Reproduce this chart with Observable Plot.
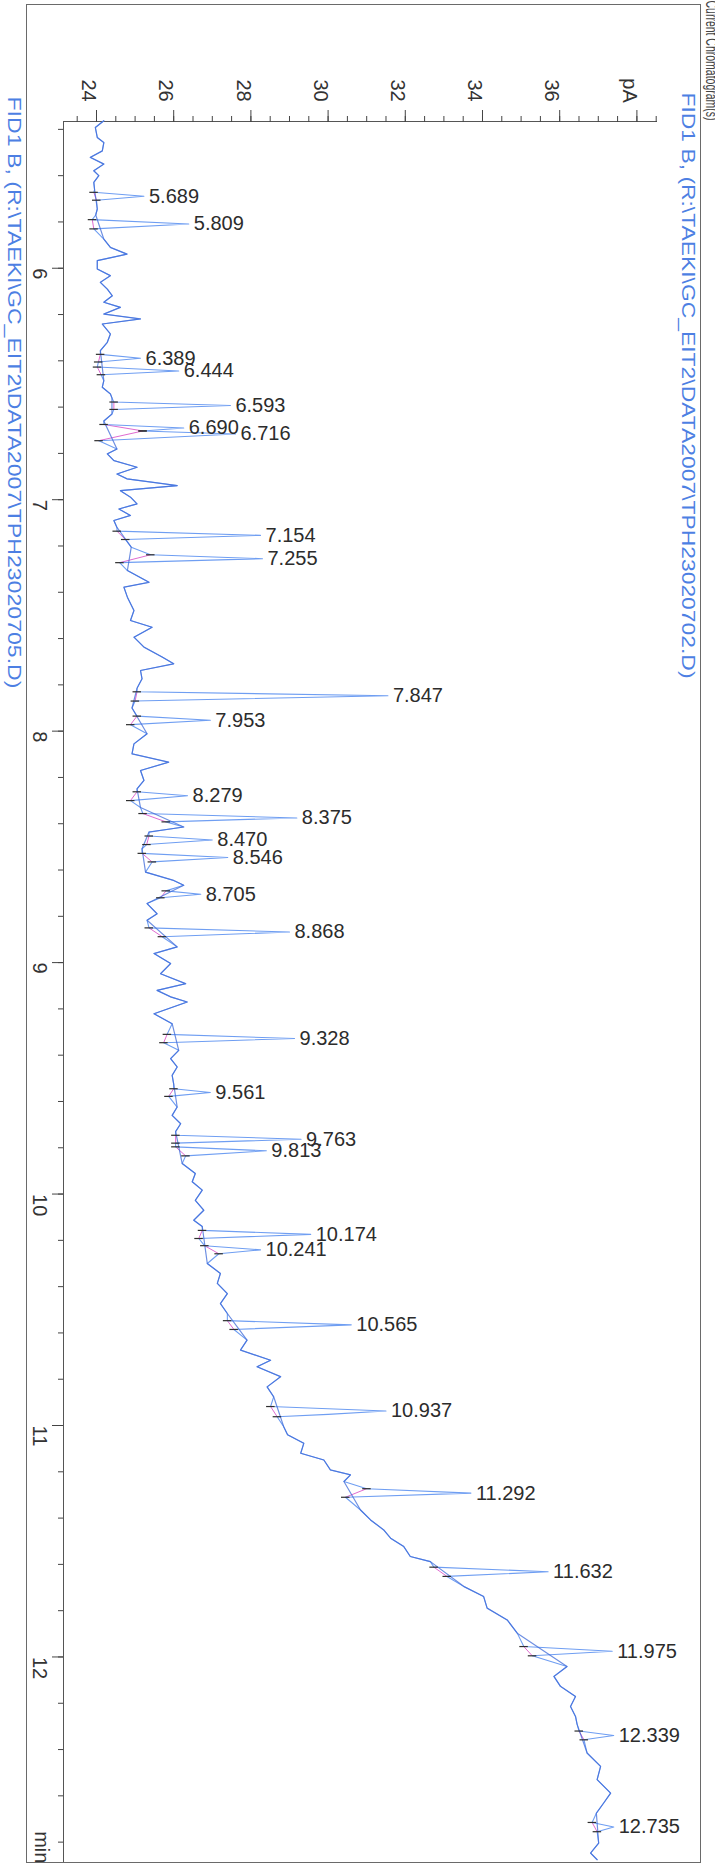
<!DOCTYPE html>
<html><head><meta charset="utf-8">
<script src="https://cdn.jsdelivr.net/npm/d3@7"></script>
<script src="https://cdn.jsdelivr.net/npm/@observablehq/plot@0.6"></script>
<style>
html,body{margin:0;padding:0;background:#fff;}
#wrap{position:relative;width:715px;height:1865px;overflow:hidden;background:#fff;}
#border{position:absolute;left:26px;top:4px;width:673px;height:1857px;border:1px solid #6a6a6a;pointer-events:none;}
</style></head><body>
<div id="wrap"><div id="chart"></div><div id="border"></div></div>
<script>
// ---------------- data ----------------
const timeMajorTicks = [6, 7, 8, 9, 10, 11, 12];
const timeMinorTicks = [5.4,5.6,5.8,6.0,6.2,6.4,6.6,6.8,7.0,7.2,7.4,7.6,7.8,8.0,8.2,8.4,8.6,8.8,9.0,9.2,9.4,9.6,9.8,10.0,10.2,10.4,10.6,10.8,11.0,11.2,11.4,11.6,11.8,12.0,12.2,12.4,12.6,12.8];
const pAMajorTicks = [24, 26, 28, 30, 32, 34, 36, 38];
const pAMajorLabels = ["24", "26", "28", "30", "32", "34", "36", "pA"];
const pAMinorTicks = [23.5,24,24.5,25,25.5,26,26.5,27,27.5,28,28.5,29,29.5,30,30.5,31,31.5,32,32.5,33,33.5,34,34.5,35,35.5,36,36.5,37,37.5,38,38.5];
const timeUnitLabel = "min";
const signalLabels = [
  "FID1 B, (R:\\TAEKI\\GC_EIT2\\DATA2007\\TPH23020705.D)",
  "FID1 B, (R:\\TAEKI\\GC_EIT2\\DATA2007\\TPH23020702.D)"
];
const pageTitle = "Current Chromatogram(s)";

// baseline (noise) points: [time min, signal pA]
const baseline = [
[5.363,24.19],[5.392,23.97],[5.435,24.02],[5.457,24.19],[5.493,24.15],[5.521,23.84],[5.550,24.19],[5.579,23.93],[5.600,24.06],[5.629,23.93],[5.660,23.95],
[5.744,24.02],[5.770,23.98],
[5.874,24.19],[5.910,24.36],[5.939,24.79],[5.967,24.02],[6.003,24.02],[6.032,24.36],[6.061,24.10],[6.090,24.28],[6.119,24.41],[6.147,24.19],[6.169,24.62],[6.198,24.19],[6.219,25.14],[6.241,24.15],[6.284,24.36],[6.320,24.28],[6.356,24.10],
[6.486,24.19],[6.514,24.15],[6.543,24.36],[6.560,24.40],
[6.630,24.40],[6.660,24.19],
[6.781,24.53],[6.802,24.28],[6.831,24.45],[6.860,25.05],[6.889,24.53],[6.910,24.79],[6.939,26.09],[6.961,24.62],[6.989,24.88],[7.018,25.05],[7.040,24.58],[7.068,24.88],[7.090,24.45],[7.120,24.53],
[7.205,24.90],
[7.306,24.80],[7.357,25.36],[7.378,24.71],[7.421,24.80],[7.479,24.97],[7.522,24.88],[7.551,25.44],[7.594,24.97],[7.637,25.23],[7.680,25.70],[7.709,26.00],[7.738,25.14],[7.774,25.18],[7.815,25.05],
[7.900,24.92],
[8.011,25.31],[8.055,24.97],[8.098,24.92],[8.134,25.87],[8.170,25.14],[8.213,25.23],[8.249,25.05],
[8.330,25.14],
[8.414,26.26],[8.436,25.36],
[8.508,25.18],
[8.609,25.27],[8.645,26.00],[8.666,26.26],
[8.745,25.31],[8.789,25.57],[8.817,25.31],
[8.932,26.09],[8.961,25.49],[9.004,25.92],[9.048,25.66],[9.091,26.31],[9.120,25.57],[9.148,25.92],[9.170,26.35],[9.221,25.49],[9.264,25.96],
[9.379,26.13],[9.415,25.92],[9.451,26.09],[9.487,25.96],[9.525,26.00],
[9.624,26.09],[9.660,25.96],[9.696,26.18],[9.730,26.05],
[9.868,26.22],[9.911,26.56],[9.947,26.48],[9.983,26.74],[10.027,26.56],[10.070,26.78],[10.113,26.52],[10.140,26.74],
[10.300,26.87],[10.343,27.21],[10.386,27.13],[10.430,27.39],[10.473,27.21],[10.516,27.39],
[10.631,27.90],[10.674,27.73],[10.718,28.51],[10.746,28.16],[10.789,28.77],[10.833,28.42],[10.876,28.59],
[11.005,28.85],[11.040,28.95],[11.077,29.37],[11.120,29.29],[11.149,29.89],[11.192,30.06],[11.213,30.58],[11.242,30.41],
[11.365,30.84],[11.408,31.10],[11.451,31.44],[11.487,31.62],[11.523,31.96],[11.566,32.13],[11.588,32.65],
[11.696,33.52],[11.739,34.03],[11.789,34.12],[11.840,34.64],[11.897,34.90],
[12.041,36.19],[12.084,35.85],[12.127,36.02],[12.171,36.41],[12.214,36.28],[12.257,36.41],[12.290,36.45],
[12.415,36.71],[12.473,37.06],[12.530,36.97],[12.588,37.32],[12.631,37.14],[12.675,36.95],
[12.804,37.01],[12.847,36.80],[12.876,36.97]
];

// extra trace points on peak flanks: [time, pA]
const shoulders = [[10.952, 30.00]];

// integrated peaks: [retention time, apex pA, start time, start pA, end time, end pA]
const peaks = [
[5.689,25.23,5.672,23.93,5.706,24.00],
[5.809,26.39,5.790,23.89,5.830,23.93],
[6.389,25.14,6.372,24.10,6.405,24.05],
[6.444,26.13,6.427,24.02,6.460,24.12],
[6.593,27.47,6.578,24.45,6.610,24.45],
[6.690,26.26,6.675,24.19,6.703,25.20],
[6.716,27.60,6.703,25.20,6.745,24.06],
[7.154,28.25,7.136,24.53,7.172,24.75],
[7.255,28.30,7.238,25.40,7.272,24.60],
[7.847,31.55,7.830,25.05,7.870,25.00],
[7.953,26.95,7.935,25.05,7.972,24.88],
[8.279,26.36,8.262,25.05,8.300,24.88],
[8.375,29.19,8.356,25.20,8.392,25.80],
[8.470,27.00,8.453,25.36,8.490,25.30],
[8.546,27.40,8.528,25.18,8.565,25.44],
[8.705,26.70,8.690,25.80,8.720,25.66],
[8.868,29.00,8.850,25.36,8.888,25.70],
[9.328,29.13,9.310,25.83,9.346,25.74],
[9.561,26.95,9.545,26.00,9.578,25.87],
[9.763,29.30,9.746,26.05,9.780,26.05],
[9.813,28.40,9.796,26.05,9.835,26.31],
[10.174,29.55,10.157,26.74,10.192,26.65],
[10.241,28.25,10.223,26.80,10.258,27.17],
[10.565,30.60,10.547,27.39,10.585,27.56],
[10.937,31.50,10.918,28.51,10.962,28.68],
[11.292,33.70,11.273,31.00,11.310,30.45],
[11.632,35.70,11.612,32.74,11.652,33.08],
[11.975,37.36,11.955,35.07,11.995,35.29],
[12.339,37.40,12.320,36.50,12.358,36.63],
[12.735,37.40,12.715,36.84,12.755,36.97]
];

// ---------------- derived tables ----------------
const peakRows = peaks.map(([rt, apex, t0, p0, t1, p1]) => ({rt, apex, t0, p0, t1, p1}));
const trace = [
  ...baseline.map(([t, v]) => ({t, v})),
  ...shoulders.map(([t, v]) => ({t, v})),
  ...peakRows.flatMap(p => [{t: p.t0, v: p.p0}, {t: p.rt, v: p.apex}, {t: p.t1, v: p.p1}])
].sort((a, b) => a.t - b.t)
 .filter((d, i, arr) => i === 0 || d.t !== arr[i - 1].t || d.v !== arr[i - 1].v);
const baseRows = baseline.map(([t, v]) => ({t, v}));
const bounds = peakRows.flatMap(p => [{t: p.t0, v: p.p0}, {t: p.t1, v: p.p1}]);

const dash = {draw(ctx) { ctx.moveTo(-4.5, 0); ctx.lineTo(4, 0); }};
const FONT = "'Liberation Sans', Arial, Helvetica, sans-serif";
const ink = "#333";

const svg = Plot.plot({
  width: 715, height: 1865,
  marginTop: 121, marginLeft: 63, marginRight: 59, marginBottom: 3,
  x: {domain: [23.145, 38.508], axis: null},
  y: {domain: [5.366, 12.888], reverse: true, axis: null},
  style: {fontFamily: FONT, background: "transparent", overflow: "visible"},
  marks: [
    Plot.frame({anchor: "top", stroke: "#555"}),
    Plot.frame({anchor: "left", stroke: "#555"}),
    Plot.frame({anchor: "bottom", stroke: "#777"}),
    Plot.axisX({anchor: "top", ticks: pAMinorTicks, tickSize: 6, fill: "none", stroke: "#444", label: null}),
    Plot.axisX({anchor: "top", ticks: pAMajorTicks, tickSize: 12, fill: "none", stroke: "#444", label: null}),
    Plot.text(pAMajorTicks, {x: d => d, text: (d, i) => pAMajorLabels[i], frameAnchor: "top", dy: -31,
      rotate: 90, fontSize: 20, fill: ink}),
    Plot.axisY({anchor: "left", ticks: timeMinorTicks, tickSize: 5, fill: "none", stroke: "#444", label: null}),
    Plot.axisY({anchor: "left", ticks: timeMajorTicks, tickSize: 11, fill: "none", stroke: "#444", label: null}),
    Plot.text(timeMajorTicks, {y: d => d, text: d => String(d), frameAnchor: "left", dx: -24,
      rotate: 90, fontSize: 20, fill: ink}),
    Plot.text([{t: 12.8, s: timeUnitLabel}], {y: "t", text: "s", frameAnchor: "left", dx: -22, dy: -11,
      rotate: 90, textAnchor: "start", fontSize: 20, fill: ink}),
    Plot.text([signalLabels[0]], {frameAnchor: "top-left", dx: -42, dy: -25, rotate: 90, textAnchor: "start",
      fontSize: 19, fill: "#4d7fe3"}),
    Plot.text([signalLabels[1]], {frameAnchor: "top-right", dx: 39, dy: -29, rotate: 90, textAnchor: "start",
      fontSize: 19, fill: "#4d7fe3"}),
    Plot.text([pageTitle], {frameAnchor: "top-right", dx: 62, dy: -121, rotate: 90, textAnchor: "start",
      fontSize: 17, fill: "#444"}),
    // integration baselines
    Plot.link(peakRows, {x1: "p0", y1: "t0", x2: "p1", y2: "t1", stroke: "#e06ad0", strokeWidth: 1}),
    // signal traces
    Plot.line(trace, {x: "v", y: "t", stroke: "#6f9ef2", strokeWidth: 1.1, curve: "linear"}),
    Plot.line(baseRows, {x: "v", y: "t", stroke: "#3d6ad8", strokeWidth: 1.2, strokeOpacity: 0.75, curve: "linear"}),
    // peak start/end marks
    Plot.dot(bounds, {x: "v", y: "t", symbol: dash, r: 4, stroke: "#2e2e2e", strokeWidth: 1.2, fill: "none"}),
    // retention time labels
    Plot.text(peakRows, {x: "apex", y: "rt", text: d => d.rt.toFixed(3), dx: 5, textAnchor: "start",
      fontSize: 20, fill: "#2c2c2c"})
  ]
});
document.getElementById("chart").appendChild(svg);
d3.select(svg).selectAll("text").each(function () {
  const s = this.textContent;
  if (s === signalLabels[0]) { this.setAttribute("textLength", 592); this.setAttribute("lengthAdjust", "spacingAndGlyphs"); }
  if (s === signalLabels[1]) { this.setAttribute("textLength", 586); this.setAttribute("lengthAdjust", "spacingAndGlyphs"); }
  if (s === pageTitle) { this.setAttribute("textLength", 120); this.setAttribute("lengthAdjust", "spacingAndGlyphs"); }
});
</script>
</body></html>
